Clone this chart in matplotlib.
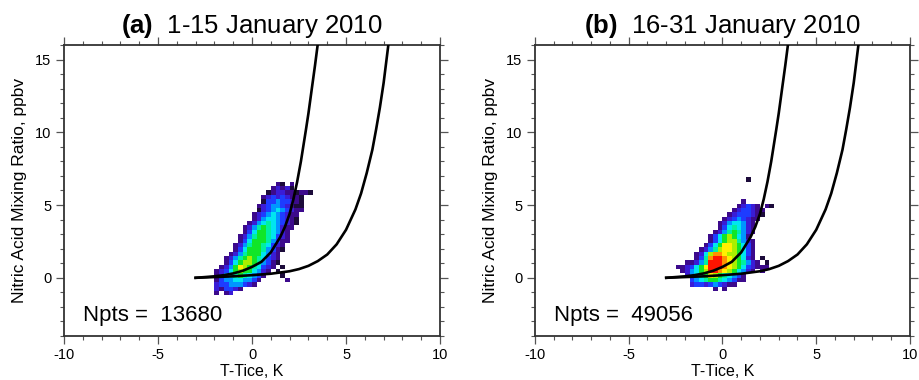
import matplotlib
matplotlib.use("Agg")
import matplotlib.pyplot as plt
from matplotlib.colors import ListedColormap, BoundaryNorm
from matplotlib.ticker import MultipleLocator
import numpy as np

plt.rcParams['font.family'] = ['Liberation Sans', 'DejaVu Sans']
plt.rcParams['mathtext.fontset'] = 'custom'
plt.rcParams['mathtext.rm'] = 'Liberation Sans'
plt.rcParams['mathtext.bf'] = 'Liberation Sans:bold'
plt.rcParams['axes.unicode_minus'] = False

# Histogram bins: T-Tice (K) and HNO3 (ppbv)
t_edges = np.linspace(-2.5, 3.5, 25)
hno3_edges = np.linspace(-1.2, 7.2, 29)

# Colour class per bin, first row = highest HNO3 bin.
# '.' = no data, 1 (sparse) .. c (densest)
hist_a = [
    "........................",
    "........................",
    "...............21.2.....",
    "..............23231.....",
    ".............1233221221.",
    "............234343221...",
    "............144544321...",
    "...........2345543211...",
    "...........1345654322...",
    "..........2345654322....",
    "..........2356654321....",
    ".........23567654321....",
    "........23578765322.....",
    "........2468876532......",
    ".......23578876432......",
    ".......24688875422......",
    "......23578876432.......",
    "......24688875421.......",
    ".....23578886532........",
    "....235789876432........",
    "....246899875421........",
    "...2358a9876432.1.......",
    "..234689886532.1........",
    "..23567876542...1.......",
    "..2455665542.....2......",
    "..344555432.............",
    "..324432................",
    "..2.23..................",
]

hist_b = [
    "........................",
    "...............1........",
    "........................",
    "........................",
    "........................",
    "........................",
    "..............2.........",
    ".............23432.21...",
    "............2344322.....",
    "...........23444321.....",
    "..........23454322......",
    ".........23566532.......",
    ".........24676532.......",
    "........235787532.......",
    ".......246898652........",
    ".......2468997532.......",
    "......2468aa98642.......",
    ".....23579aa98642.......",
    "....2369bba998642.......",
    "....247bccba98632.1.....",
    "..22357cccba987532.1....",
    "223468acccba98643222....",
    ".235689ccba986532.2.....",
    "..35678a9876542.........",
    "...456788765422.........",
    "...3443454322...........",
    "........2.2.............",
    "........................",
]

# Equilibrium curves, HNO3 (ppbv) against T-Tice (K)
curve1_t = [-3.0, -2.5, -2.0, -1.5, -1.0, -0.5, 0.0, 0.5, 1.0, 1.5, 1.75, 2.0,
            2.2, 2.4, 2.6, 2.87, 3.0, 3.18, 3.35, 3.49, 3.6]
curve1_hno3 = [0.0, 0.05, 0.1, 0.18, 0.3, 0.48, 0.75, 1.1, 1.75, 2.8, 3.5, 4.4,
               5.4, 6.6, 8.0, 10.2, 11.3, 13.0, 14.6, 16.0, 17.2]
curve2_t = [-3.0, -2.0, -1.0, 0.0, 1.0, 2.0, 2.5, 3.0, 3.5, 4.0, 4.5, 5.0, 5.5,
            5.8, 6.1, 6.4, 6.6, 6.8, 7.0, 7.25, 7.35]
curve2_hno3 = [0.0, 0.05, 0.1, 0.18, 0.28, 0.45, 0.6, 0.82, 1.15, 1.6, 2.3, 3.3,
               4.7, 5.8, 7.2, 8.8, 10.2, 11.7, 13.4, 16.0, 17.0]

labels = ['(a)', '(b)']
periods = ['1-15 January 2010', '16-31 January 2010']
npts = [13680, 49056]

colours = ['#1c0b3a', '#3c0a8c', '#3a1cd6', '#1e3cff', '#0096ff', '#00e6f0',
           '#00f0a0', '#10e628', '#a8f000', '#fff000', '#ff9000', '#ff1400']
cmap = ListedColormap(colours)
norm = BoundaryNorm(np.arange(0.5, 13.0, 1.0), cmap.N)


def to_grid(rows):
    vals = [[np.nan if c == '.' else int(c, 16) for c in r] for r in rows[::-1]]
    return np.ma.masked_invalid(np.array(vals, dtype=float))


fig = plt.figure(figsize=(9.2, 3.8), dpi=100)
boxes = [[0.0696, 0.1158, 0.4087, 0.7658], [0.5815, 0.1158, 0.4076, 0.7658]]

for k, hist in enumerate([hist_a, hist_b]):
    ax = fig.add_axes(boxes[k])
    ax.pcolormesh(t_edges, hno3_edges, to_grid(hist), cmap=cmap, norm=norm)
    ax.plot(curve1_t, curve1_hno3, color='k', lw=1.9, zorder=3)
    ax.plot(curve2_t, curve2_hno3, color='k', lw=1.9, zorder=3)

    ax.set_xlim(-10, 10)
    ax.set_ylim(-4, 16)
    ax.xaxis.set_major_locator(MultipleLocator(5))
    ax.xaxis.set_minor_locator(MultipleLocator(1))
    ax.yaxis.set_major_locator(MultipleLocator(5))
    ax.yaxis.set_minor_locator(MultipleLocator(1))
    ax.tick_params(which='both', direction='out', top=True, right=True,
                   color='#555555', labelsize=10.5)
    ax.tick_params(which='major', length=6, width=0.9, pad=3)
    ax.tick_params(which='minor', length=3, width=0.8)
    for s in ax.spines.values():
        s.set_color('#333333')
        s.set_linewidth(1.3)

    ax.set_xlabel('T-Tice, K', fontsize=11.5, labelpad=1)
    ax.set_ylabel('Nitric Acid Mixing Ratio, ppbv', fontsize=12.5, labelpad=6)
    ax.set_title(r'$\mathbf{' + labels[k] + '}$  ' + periods[k], fontsize=18.5, pad=8.5)
    ax.text(-9, -3, 'Npts =  %d' % npts[k], fontsize=16)

plt.savefig('out.png', dpi=100)
